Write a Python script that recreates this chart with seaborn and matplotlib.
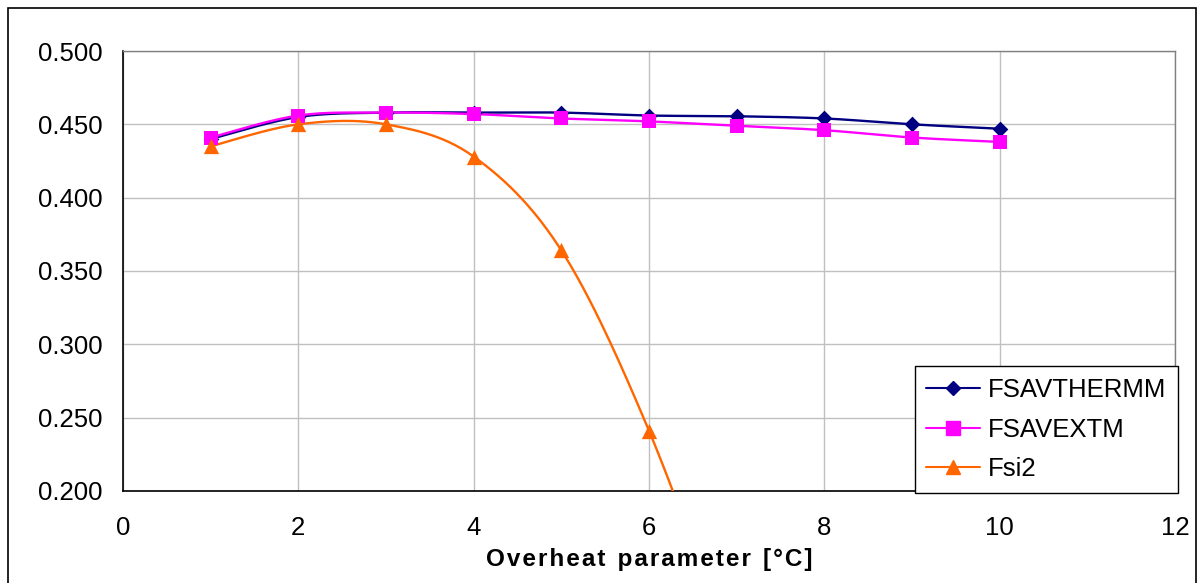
import numpy as np
import pandas as pd
import matplotlib
matplotlib.use("Agg")
import matplotlib.pyplot as plt
from matplotlib.lines import Line2D
from matplotlib.patches import Rectangle
import seaborn as sns

# ---- data ----
x_therm = [1, 2, 3, 4, 5, 6, 7, 8, 9, 10]
fsavthermm = [0.440, 0.455, 0.458, 0.458, 0.458, 0.456, 0.4555, 0.454, 0.450, 0.447]
x_ext = [1, 2, 3, 4, 5, 6, 7, 8, 9, 10]
fsavextm = [0.441, 0.456, 0.458, 0.457, 0.454, 0.452, 0.449, 0.446, 0.441, 0.438]
x_fsi = [1, 2, 3, 4, 5, 6, 7]
fsi2 = [0.435, 0.450, 0.450, 0.428, 0.364, 0.241, 0.080]

series_names = ["FSAVTHERMM", "FSAVEXTM", "Fsi2"]
colors = ["#000080", "#FF00FF", "#FF6600"]
markers = ["D", "s", "^"]
msizes = [8, 10, 11]
x_ticks = [0, 2, 4, 6, 8, 10, 12]
y_ticks = [0.200, 0.250, 0.300, 0.350, 0.400, 0.450, 0.500]


def smooth(xs, ys, n=30):
    """Excel-style smoothed line (Catmull-Rom / cubic Bezier, tension 1/6)."""
    P = np.column_stack([xs, ys]).astype(float)
    P = np.vstack([P[0], P, P[-1]])
    out = []
    for i in range(1, len(P) - 2):
        p0, p1, p2, p3 = P[i - 1], P[i], P[i + 1], P[i + 2]
        c1 = p1 + (p2 - p0) / 6.0
        c2 = p2 - (p3 - p1) / 6.0
        t = np.linspace(0, 1, n)[:, None]
        seg = ((1 - t) ** 3) * p1 + 3 * ((1 - t) ** 2) * t * c1 + 3 * (1 - t) * t ** 2 * c2 + t ** 3 * p2
        out.append(seg if i == 1 else seg[1:])
    out = np.vstack(out)
    return out[:, 0], out[:, 1]


sns.set_theme(style="white")
plt.rcParams["font.family"] = ["Liberation Sans", "DejaVu Sans"]
plt.rcParams["text.color"] = "black"

fig = plt.figure(figsize=(12, 5.83), dpi=100)
ax = fig.add_axes([0.1025, 0.158, 0.8767, 0.7545])

data = [(x_therm, fsavthermm), (x_ext, fsavextm), (x_fsi, fsi2)]
handles = []
for (xs, ys), name, c, m, ms in zip(data, series_names, colors, markers, msizes):
    sx, sy = smooth(xs, ys)
    df_line = pd.DataFrame({"x": sx, "y": sy})
    sns.lineplot(data=df_line, x="x", y="y", ax=ax, color=c, lw=1.7, sort=False,
                 estimator=None, zorder=3)
    df_pts = pd.DataFrame({"x": xs, "y": ys})
    sns.scatterplot(data=df_pts, x="x", y="y", ax=ax, color=c, marker=m,
                    s=ms ** 2, edgecolor=c, linewidth=0, zorder=4)
    handles.append(Line2D([0], [0], color=c, lw=1.5, marker=m, markersize=ms * 0.95,
                          markeredgecolor=c, label=name))

ax.set_xlim(0, 12)
ax.set_ylim(0.2, 0.5)
ax.set_xticks(x_ticks)
ax.set_yticks(y_ticks)
ax.set_xticklabels([str(v) for v in x_ticks])
ax.set_yticklabels([f"{v:.3f}" for v in y_ticks])
ax.grid(True, color="#c0c0c0", lw=1.0)
ax.set_axisbelow(True)
for side in ["top", "right"]:
    ax.spines[side].set_color("#808080")
    ax.spines[side].set_linewidth(1.0)
for side in ["left", "bottom"]:
    ax.spines[side].set_color("black")
    ax.spines[side].set_linewidth(1.2)
ax.tick_params(axis="both", which="major", direction="out", length=5, width=1,
               color="black", labelsize=18.5, labelcolor="black")
ax.tick_params(axis="y", pad=10)
ax.tick_params(axis="x", pad=13)
ax.set_ylabel("")
ax.set_xlabel("O v e r h e a t   p a r a m e t e r   [ ° C ]".replace("   ", "\u2002").replace(" ", "\u200a"),
              fontsize=17.5, fontweight="bold", labelpad=6, color="black")

leg = ax.legend(handles=handles, loc="lower right", bbox_to_anchor=(1178 / 1200, 1 - 493 / 583),
                bbox_transform=fig.transFigure, fontsize=18.5, frameon=True, fancybox=False,
                framealpha=1, edgecolor="black", borderpad=0.45, labelspacing=0.62,
                handlelength=2.1, handletextpad=0.3, borderaxespad=0, labelcolor="black")
leg.get_frame().set_linewidth(1.0)

fig.patches.append(Rectangle((8 / 1200, -0.01), 1188 / 1200, 1 - 8 / 583 + 0.01,
                             transform=fig.transFigure, fill=False, edgecolor="black",
                             lw=1.2, zorder=10))

fig.savefig("out.png", dpi=100, facecolor="white")
